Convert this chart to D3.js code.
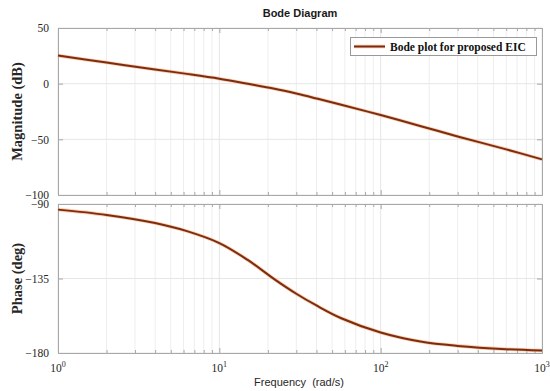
<!DOCTYPE html>
<html>
<head>
<meta charset="utf-8">
<script src="https://cdn.jsdelivr.net/npm/d3@7"></script>
<style>
  html, body { margin: 0; padding: 0; background: #fff; }
  svg { display: block; }
</style>
</head>
<body>
<svg id="chart" width="550" height="391"></svg>
<script>
// ---- data ----
const frequencies = [1, 2, 4, 6.3, 10, 15, 22, 30, 40, 57, 100, 180, 300, 600, 1000];
const magnitudeDb = [25.2, 19.0, 12.7, 8.8, 4.5, -0.1, -4.6, -8.9, -13.3, -18.9, -28.2, -38.4, -47.4, -59.0, -68.0];
const phaseDeg = [-93.4, -96.6, -101.5, -106.4, -113.6, -123.8, -135.5, -144.2, -151.3, -159.0, -167.6, -173.2, -175.7, -177.7, -178.5];
const magTicks = [50, 0, -50, -100];
const phaseTicks = [-90, -135, -180];
const freqTicks = [1, 10, 100, 1000];
const freqTickLabels = ["0", "1", "2", "3"];
const title = "Bode Diagram";
const xLabel = "Frequency  (rad/s)";
const magLabel = "Magnitude (dB)";
const phaseLabel = "Phase (deg)";
const legendLabel = "Bode plot for proposed EIC";

const svg = d3.select("#chart");
const left = 58, right = 542;
const magTop = 28, magBottom = 195;
const phTop = 204, phBottom = 353;

const x = d3.scaleLog().domain([1, 1000]).range([left, right]);
const yMag = d3.scaleLinear().domain([-100, 50]).range([magBottom, magTop]);
const yPh = d3.scaleLinear().domain([-180, -90]).range([phBottom, phTop]);

const minorTicks = [];
for (let d = 1; d < 1000; d *= 10) for (let k = 2; k <= 9; k++) minorTicks.push(d * k);

const serif = "'Liberation Serif', 'Times New Roman', serif";
const sans = "'Liberation Sans', Arial, sans-serif";
const gridCol = "#e6e6e6", boxCol = "#a8a8a8", textCol = "#262626";

function panel(y, yTicks, top, bottom, values, ylabel) {
  const g = svg.append("g");
  // grid
  g.selectAll(".gm").data(minorTicks).join("line")
    .attr("x1", d => x(d)).attr("x2", d => x(d)).attr("y1", top).attr("y2", bottom)
    .attr("stroke", "#eeeeee").attr("stroke-width", 1);
  g.selectAll(".gx").data(freqTicks).join("line")
    .attr("x1", d => x(d)).attr("x2", d => x(d)).attr("y1", top).attr("y2", bottom)
    .attr("stroke", gridCol).attr("stroke-width", 1);
  g.selectAll(".gy").data(yTicks).join("line")
    .attr("x1", left).attr("x2", right).attr("y1", d => y(d)).attr("y2", d => y(d))
    .attr("stroke", gridCol).attr("stroke-width", 1);
  // axes with inward ticks (MATLAB style)
  const axB = d3.axisBottom(x).tickValues(freqTicks).tickSize(-5).tickFormat("");
  const axBm = d3.axisBottom(x).tickValues(minorTicks).tickSize(-3).tickFormat("");
  const axT = d3.axisTop(x).tickValues(freqTicks).tickSize(-5).tickFormat("");
  const axTm = d3.axisTop(x).tickValues(minorTicks).tickSize(-3).tickFormat("");
  const axL = d3.axisLeft(y).tickValues(yTicks).tickSize(-5).tickPadding(9).tickFormat(d3.format("d"));
  const axR = d3.axisRight(y).tickValues(yTicks).tickSize(-5).tickFormat("");
  const style = sel => {
    sel.selectAll("path").attr("stroke", boxCol);
    sel.selectAll("line").attr("stroke", boxCol);
    sel.selectAll("text").attr("font-family", serif).attr("font-size", 11.5).attr("fill", textCol);
  };
  g.append("g").attr("transform", `translate(0,${bottom})`).call(axB).call(style);
  g.append("g").attr("transform", `translate(0,${bottom})`).call(axBm).call(style).select("path").remove();
  g.append("g").attr("transform", `translate(0,${top})`).call(axT).call(style);
  g.append("g").attr("transform", `translate(0,${top})`).call(axTm).call(style).select("path").remove();
  g.append("g").attr("transform", `translate(${left},0)`).call(axL).call(style);
  g.append("g").attr("transform", `translate(${right},0)`).call(axR).call(style);
  // curve
  const pts = frequencies.map((f, i) => [x(f), y(values[i])]);
  const line = d3.line().curve(d3.curveCatmullRom.alpha(0.5));
  g.append("path").attr("d", line(pts)).attr("fill", "none")
    .attr("stroke", "#f2a66e").attr("stroke-width", 3.6).attr("stroke-opacity", 0.55);
  g.append("path").attr("d", line(pts)).attr("fill", "none")
    .attr("stroke", "#7d2c10").attr("stroke-width", 2);
  // y label
  svg.append("text")
    .attr("transform", `translate(22,${(top + bottom) / 2}) rotate(-90)`)
    .attr("text-anchor", "middle")
    .attr("font-family", serif).attr("font-weight", "bold").attr("font-size", 14.5)
    .attr("fill", textCol).text(ylabel);
  return g;
}

panel(yMag, magTicks, magTop, magBottom, magnitudeDb, magLabel);
panel(yPh, phaseTicks, phTop, phBottom, phaseDeg, phaseLabel);

// x tick labels (10^n) under phase panel
const xl = svg.append("g");
freqTicks.forEach((f, i) => {
  const t = xl.append("text").attr("x", x(f)).attr("y", 372).attr("text-anchor", "middle")
    .attr("font-family", serif).attr("font-size", 11.5).attr("fill", textCol);
  t.append("tspan").text("10");
  t.append("tspan").attr("dy", -5).attr("font-size", 8).text(freqTickLabels[i]);
});

// title & x label
svg.append("text").attr("x", (left + right) / 2).attr("y", 17).attr("text-anchor", "middle")
  .attr("font-family", sans).attr("font-weight", "bold").attr("font-size", 11)
  .attr("fill", "#1a1a1a").text(title);
svg.append("text").attr("x", (left + right) / 2 - 1).attr("y", 386).attr("text-anchor", "middle")
  .attr("font-family", sans).attr("font-size", 11).attr("fill", textCol)
  .style("white-space", "pre").text(xLabel);

// legend
const lg = svg.append("g");
lg.append("rect").attr("x", 350.5).attr("y", 37.5).attr("width", 186).attr("height", 18)
  .attr("fill", "#fff").attr("stroke", "#999").attr("stroke-width", 1);
lg.append("line").attr("x1", 354).attr("x2", 385).attr("y1", 46.5).attr("y2", 46.5)
  .attr("stroke", "#f2a66e").attr("stroke-width", 3.6).attr("stroke-opacity", 0.55);
lg.append("line").attr("x1", 354).attr("x2", 385).attr("y1", 46.5).attr("y2", 46.5)
  .attr("stroke", "#7d2c10").attr("stroke-width", 2);
lg.append("text").attr("x", 390).attr("y", 50.5)
  .attr("font-family", serif).attr("font-weight", "bold").attr("font-size", 11.5)
  .attr("fill", "#111").text(legendLabel);
</script>
</body>
</html>
